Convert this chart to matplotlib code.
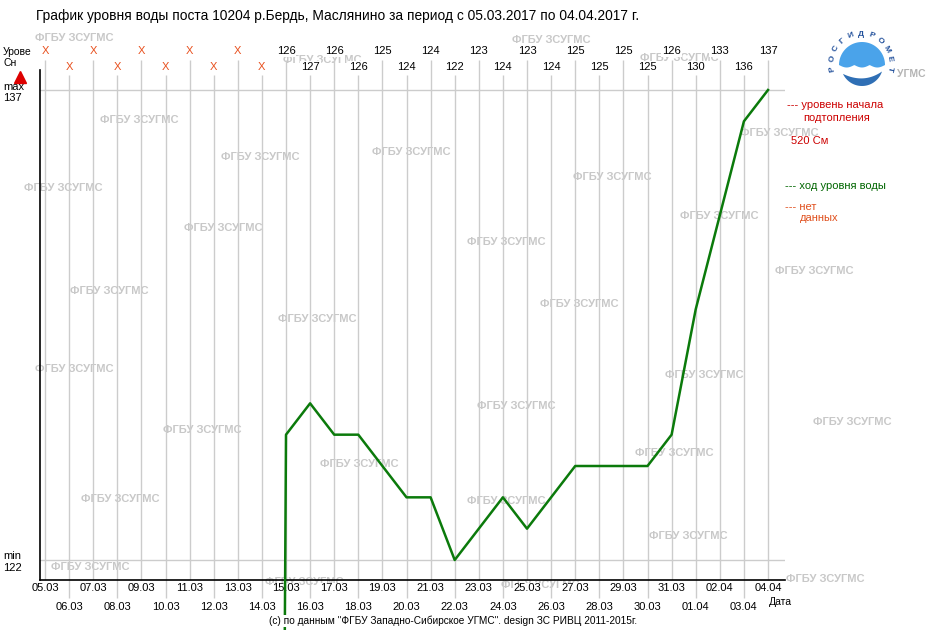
import numpy as np
import matplotlib
matplotlib.use('Agg')
import matplotlib.pyplot as plt
import matplotlib.transforms as mtransforms
from matplotlib.patches import Polygon

# daily water level at post 10204, r.Berd (Maslyanino), cm; None = no data
dates = ['05.03', '06.03', '07.03', '08.03', '09.03', '10.03', '11.03', '12.03',
         '13.03', '14.03', '15.03', '16.03', '17.03', '18.03', '19.03', '20.03',
         '21.03', '22.03', '23.03', '24.03', '25.03', '26.03', '27.03', '28.03',
         '29.03', '30.03', '31.03', '01.04', '02.04', '03.04', '04.04']
levels = [None, None, None, None, None, None, None, None, None, None,
          126, 127, 126, 126, 125, 124, 124, 122, 123, 124, 123, 124,
          125, 125, 125, 125, 126, 130, 133, 136, 137]
level_max = 137
level_min = 122
flood_level = 520

title = 'График уровня воды поста 10204 р.Бердь, Маслянино за период с 05.03.2017 по 04.04.2017 г.'
footer = '(c) по данным "ФГБУ Западно-Сибирское УГМС". design ЗС РИВЦ 2011-2015г.'
wm = 'ФГБУ ЗСУГМС'
# watermark spots (left x, centre y) in pixels
wm_spots = [(35, 38), (512, 40), (283, 60), (640, 58), (100, 120), (740, 133),
            (372, 152), (221, 157), (573, 177), (24, 188), (680, 216), (184, 228),
            (467, 242), (775, 271), (70, 291), (540, 304), (278, 319), (35, 369),
            (665, 375), (477, 406), (813, 422), (163, 430), (635, 453), (320, 464),
            (81, 499), (467, 501), (649, 536), (51, 567), (786, 579), (501, 585),
            (265, 582)]

W, H = 940, 630
plt.rcParams['font.family'] = ['Liberation Sans', 'DejaVu Sans']

fig = plt.figure(figsize=(W / 100, H / 100), dpi=100)
ax = fig.add_axes([40 / W, 1 - 580 / H, 745 / W, 510 / H])
# pixel coords, origin top-left
px = mtransforms.Affine2D().scale(1 / W, -1 / H).translate(0, 1) + fig.transFigure
xpx = mtransforms.blended_transform_factory(ax.transData, px)

days = np.arange(len(dates))
ax.set_xlim(-0.2075, 30.705)
ax.set_ylim(121.362, 137.638)

# vertical day grid, staggered like the labels
ax.vlines(days[0::2], 60, 580, transform=xpx, color='#cccccc', lw=1, zorder=1, clip_on=False)
ax.vlines(days[1::2], 75, 598, transform=xpx, color='#cccccc', lw=1, zorder=1, clip_on=False)
ax.axhline(level_max, color='#cccccc', lw=1, zorder=1)
ax.axhline(level_min, color='#cccccc', lw=1, zorder=1)

for x, y in wm_spots:
    ax.text(x, y, wm, transform=px, color='#c8c8c8', fontsize=8, fontweight='bold',
            va='center', ha='left', zorder=0.5, clip_on=False)

# missing days are drawn as zero by the original site
yplot = [0 if v is None else v for v in levels]
ax.plot(days, yplot, color='#0b7a0b', lw=1.8, zorder=4, clip_on=False)

# values on top
for i, v in enumerate(levels):
    s = 'X' if v is None else str(v)
    c = '#e8501e' if v is None else 'black'
    yy = 51 if i % 2 == 0 else 67
    ax.text(i, yy, s, transform=xpx, ha='center', va='center', fontsize=8, color=c,
            zorder=5, clip_on=False,
            bbox=dict(boxstyle='square,pad=0.1', fc='white', ec='none'))

ax.set_xticks(days[0::2], labels=dates[0::2])
ax.set_xticks(days[1::2], labels=dates[1::2], minor=True)
ax.tick_params(which='both', length=0, labelsize=8)
ax.tick_params(which='major', pad=2.5)
ax.tick_params(which='minor', pad=15.5)
for lbl in ax.get_xticklabels(which='both'):
    lbl.set_bbox(dict(boxstyle='square,pad=0.05', fc='white', ec='none'))
ax.set_yticks([])
for s in ['top', 'right']:
    ax.spines[s].set_visible(False)
for s in ['left', 'bottom']:
    ax.spines[s].set_color('black')
    ax.spines[s].set_linewidth(1.2)

# left side captions
fig.text(3, 52, 'Урове', transform=px, fontsize=7.5, va='center')
fig.text(3, 63, 'Сн', transform=px, fontsize=7.5, va='center')
ax.plot([20], [77], transform=px, marker='^', ms=8, color='#dd0000', clip_on=False)
fig.text(3, 87, 'max', transform=px, fontsize=8, va='center')
fig.text(3, 98, str(level_max), transform=px, fontsize=8, va='center')
fig.text(3, 556, 'min', transform=px, fontsize=8, va='center')
fig.text(3, 568, str(level_min), transform=px, fontsize=8, va='center')
fig.text(769, 602, 'Дата', transform=px, fontsize=7.5, va='center')

# legend on the right
fig.text(787, 105, '--- уровень начала', transform=px, fontsize=8, color='#cc0000', va='center')
fig.text(803, 118, 'подтопления', transform=px, fontsize=8, color='#cc0000', va='center')
fig.text(791, 141, '%d См' % flood_level, transform=px, fontsize=8, color='#cc0000', va='center')
fig.text(785, 186, '--- ход уровня воды', transform=px, fontsize=8, color='#006600', va='center')
fig.text(785, 207, '--- нет', transform=px, fontsize=8, color='#e0501e', va='center')
fig.text(800, 218, 'данных', transform=px, fontsize=8, color='#e0501e', va='center')

fig.text(36, 16, title, transform=px, fontsize=9.9, va='center')
fig.text(453, 621, footer, transform=px, fontsize=7.3, va='center', ha='center',
         bbox=dict(boxstyle='square,pad=0.05', fc='white', ec='none'))

# Roshydromet logo
lg = fig.add_axes([815 / W, 1 - 95 / H, 120 / W, 70 / H])
lg.set_xlim(815, 935)
lg.set_ylim(95, 25)
lg.axis('off')
cx, cy, r = 862, 65, 23
t = np.linspace(0, np.pi, 60)
xb = np.linspace(cx + r, cx - r, 60)
yb = cy + 2.5 * np.abs(np.sin((xb - cx + r) / (2 * r) * 3 * np.pi))
cap = np.vstack([np.column_stack([cx + r * np.cos(t), cy - r * np.sin(t)]),
                 np.column_stack([xb, yb])])
lg.add_patch(Polygon(cap, closed=True, fc='#4aa3ea', ec='none'))
a = np.radians(np.linspace(205, 342, 50))
rw = 21
bot = np.column_stack([cx + rw * np.cos(a), 65 - rw * np.sin(a)])
u = np.linspace(0, 1, 50)
x0, y0 = bot[-1]
x2, y2 = bot[0]
top = np.column_stack([(1 - u) ** 2 * x0 + 2 * u * (1 - u) * 864 + u ** 2 * x2,
                       (1 - u) ** 2 * y0 + 2 * u * (1 - u) * 84 + u ** 2 * y2])
lg.add_patch(Polygon(np.vstack([bot, top]), closed=True, fc='#2f6fb5', ec='none'))
word = 'РОСГИДРОМЕТ'
for k, ch in enumerate(word):
    th = np.radians(192 - k * 20.4)
    lg.text(861 + 29 * np.cos(th), 63 - 29 * np.sin(th), ch, fontsize=6, fontweight='bold',
            color='#1f4e9a', rotation=np.degrees(th) - 90, ha='center', va='center')
lg.text(897, 74, 'УГМС', fontsize=7.5, fontweight='bold', color='#b4b4b4', va='center')

fig.savefig('out.png', dpi=100)
